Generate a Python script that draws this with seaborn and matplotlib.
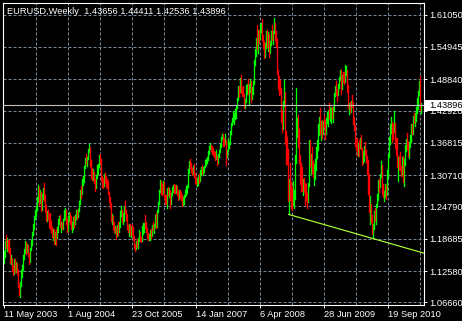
import numpy as np
import pandas as pd
import matplotlib
matplotlib.use("Agg")
import matplotlib.pyplot as plt
import seaborn as sns
from matplotlib.patches import Rectangle

# ---------------- data (weekly EURUSD bars) ----------------
chart_title = "EURUSD,Weekly  1.43656 1.44411 1.42536 1.43896"
first_open = 1.1480

high = [
    1.1630, 1.1820, 1.1933, 1.1880, 1.1850, 1.1840, 1.1700, 1.1560, 1.1500, 1.1370,
    1.1480, 1.1480, 1.1440, 1.1420, 1.1280, 1.1020, 1.1050, 1.1280, 1.1380, 1.1560,
    1.1670, 1.1820, 1.1800, 1.1780, 1.1750, 1.1600, 1.1700, 1.1850, 1.2000, 1.2150,
    1.2300, 1.2420, 1.2480, 1.2650, 1.2890, 1.2850, 1.2800, 1.2750, 1.2720, 1.2830,
    1.2930, 1.2700, 1.2500, 1.2400, 1.2420, 1.2340, 1.2350, 1.2200, 1.2100, 1.2050,
    1.2050, 1.2000, 1.2050, 1.2100, 1.2250, 1.2300, 1.2310, 1.2180, 1.2180, 1.2250,
    1.2420, 1.2450, 1.2420, 1.2250, 1.2300, 1.2380, 1.2360, 1.2300, 1.2180, 1.2280,
    1.2300, 1.2320, 1.2420, 1.2420, 1.2440, 1.2580, 1.2790, 1.2870, 1.2990, 1.3050,
    1.3240, 1.3400, 1.3470, 1.3420, 1.3560, 1.3667, 1.3600, 1.3360, 1.3200, 1.3180,
    1.3140, 1.2990, 1.3080, 1.3270, 1.3280, 1.3450, 1.3480, 1.3370, 1.3050, 1.3010,
    1.3100, 1.3120, 1.3060, 1.3000, 1.2960, 1.2760, 1.2650, 1.2540, 1.2330, 1.2300,
    1.2180, 1.2120, 1.2100, 1.2130, 1.2180, 1.2180, 1.2400, 1.2480, 1.2420, 1.2350,
    1.2480, 1.2580, 1.2420, 1.2330, 1.2130, 1.2140, 1.2150, 1.2110, 1.2150, 1.2100,
    1.1920, 1.1780, 1.1820, 1.1860, 1.1880, 1.2030, 1.2000, 1.1900, 1.2120, 1.2160,
    1.2170, 1.2320, 1.2190, 1.2080, 1.1980, 1.1960, 1.2030, 1.2050, 1.2130, 1.2190,
    1.2150, 1.2320, 1.2350, 1.2420, 1.2560, 1.2800, 1.2980, 1.2960, 1.2900, 1.2960,
    1.2950, 1.2700, 1.2690, 1.2820, 1.2840, 1.2830, 1.2790, 1.2740, 1.2840, 1.2890,
    1.2900, 1.2880, 1.2890, 1.2860, 1.2780, 1.2800, 1.2800, 1.2750, 1.2690, 1.2650,
    1.2700, 1.2790, 1.2860, 1.2880, 1.3180, 1.3330, 1.3367, 1.3300, 1.3200, 1.3250,
    1.3280, 1.3120, 1.3020, 1.3020, 1.3080, 1.3090, 1.3170, 1.3230, 1.3260, 1.3220,
    1.3250, 1.3360, 1.3370, 1.3410, 1.3530, 1.3630, 1.3680, 1.3640, 1.3620, 1.3580,
    1.3520, 1.3500, 1.3540, 1.3430, 1.3480, 1.3540, 1.3650, 1.3800, 1.3850, 1.3852,
    1.3770, 1.3850, 1.3730, 1.3550, 1.3760, 1.3700, 1.3900, 1.4050, 1.4150, 1.4280,
    1.4250, 1.4320, 1.4380, 1.4530, 1.4750, 1.4750, 1.4900, 1.4967, 1.4740, 1.4760,
    1.4610, 1.4500, 1.4780, 1.4800, 1.4880, 1.4790, 1.4880, 1.4850, 1.4730, 1.4850,
    1.5250, 1.5460, 1.5660, 1.5900, 1.5820, 1.5820, 1.5920, 1.5950, 1.6019, 1.5720,
    1.5600, 1.5560, 1.5790, 1.5820, 1.5780, 1.5740, 1.5600, 1.5800, 1.5910, 1.5800,
    1.6038, 1.5940, 1.5800, 1.5640, 1.5050, 1.4950, 1.4870, 1.4720, 1.4300, 1.4480,
    1.4867, 1.4650, 1.3900, 1.3800, 1.3560, 1.3000, 1.3300, 1.2950, 1.2850, 1.2970,
    1.2800, 1.3450, 1.4720, 1.4150, 1.4200, 1.3950, 1.3450, 1.3300, 1.3230, 1.3000,
    1.3020, 1.2920, 1.2900, 1.2730, 1.2930, 1.3740, 1.3740, 1.3480, 1.3600, 1.3330,
    1.3280, 1.3370, 1.3610, 1.3740, 1.4040, 1.4160, 1.4340, 1.4100, 1.4120, 1.4100,
    1.4200, 1.4120, 1.4150, 1.4270, 1.4300, 1.4440, 1.4360, 1.4340, 1.4350, 1.4350,
    1.4620, 1.4750, 1.4850, 1.4700, 1.4800, 1.4930, 1.5060, 1.5060, 1.4960, 1.5010,
    1.5020, 1.5145, 1.5140, 1.5060, 1.4770, 1.4440, 1.4450, 1.4480, 1.4580, 1.4450,
    1.4170, 1.4020, 1.3750, 1.3780, 1.3680, 1.3740, 1.3780, 1.3820, 1.3590, 1.3520,
    1.3620, 1.3700, 1.3550, 1.3440, 1.3350, 1.3100, 1.2680, 1.2520, 1.2310, 1.2150,
    1.2400, 1.2450, 1.2520, 1.2720, 1.2980, 1.2990, 1.3100, 1.3330, 1.3270, 1.2910,
    1.2780, 1.2910, 1.2890, 1.3160, 1.3480, 1.3790, 1.4030, 1.4160, 1.4070, 1.4030,
    1.4283, 1.4050, 1.3780, 1.3770, 1.3410, 1.3440, 1.3500, 1.3240, 1.3420, 1.3440,
    1.3370, 1.3640, 1.3760, 1.3860, 1.3700, 1.3690, 1.3830, 1.4030, 1.4040, 1.4180,
    1.4250, 1.4250, 1.4350, 1.4520, 1.4660, 1.4850, 1.4940, 1.44411,
]

low = [
    1.1420, 1.1530, 1.1690, 1.1630, 1.1640, 1.1600, 1.1420, 1.1400, 1.1260, 1.1180,
    1.1200, 1.1250, 1.1250, 1.1200, 1.0950, 1.0800, 1.0762, 1.0980, 1.1150, 1.1280,
    1.1480, 1.1600, 1.1580, 1.1620, 1.1550, 1.1400, 1.1430, 1.1650, 1.1750, 1.1950,
    1.2050, 1.2240, 1.2300, 1.2420, 1.2560, 1.2500, 1.2550, 1.2400, 1.2420, 1.2620,
    1.2580, 1.2380, 1.2200, 1.2200, 1.2250, 1.2100, 1.2050, 1.2000, 1.1900, 1.1850,
    1.1780, 1.1780, 1.1760, 1.1880, 1.2000, 1.2150, 1.2100, 1.2000, 1.2050, 1.2050,
    1.2220, 1.2250, 1.2150, 1.2000, 1.2020, 1.2200, 1.2150, 1.2050, 1.2000, 1.2050,
    1.2100, 1.2150, 1.2250, 1.2250, 1.2280, 1.2400, 1.2530, 1.2640, 1.2720, 1.2880,
    1.2940, 1.3200, 1.3280, 1.3250, 1.3380, 1.3500, 1.3250, 1.3020, 1.2980, 1.2980,
    1.2920, 1.2770, 1.2820, 1.3020, 1.3100, 1.3230, 1.3300, 1.2960, 1.2850, 1.2830,
    1.2870, 1.2920, 1.2840, 1.2820, 1.2710, 1.2570, 1.2460, 1.2200, 1.2150, 1.2050,
    1.2000, 1.1970, 1.1870, 1.1930, 1.1950, 1.2000, 1.2100, 1.2300, 1.2180, 1.2150,
    1.2200, 1.2360, 1.2220, 1.2050, 1.2000, 1.1920, 1.1950, 1.1900, 1.1950, 1.1850,
    1.1700, 1.1640, 1.1680, 1.1710, 1.1700, 1.1830, 1.1820, 1.1800, 1.1820, 1.1960,
    1.2000, 1.2080, 1.2000, 1.1890, 1.1850, 1.1840, 1.1850, 1.1880, 1.1920, 1.2040,
    1.1980, 1.2100, 1.2080, 1.2100, 1.2380, 1.2520, 1.2750, 1.2720, 1.2700, 1.2740,
    1.2640, 1.2530, 1.2520, 1.2460, 1.2700, 1.2650, 1.2450, 1.2520, 1.2700, 1.2760,
    1.2740, 1.2740, 1.2740, 1.2700, 1.2610, 1.2620, 1.2640, 1.2600, 1.2480, 1.2500,
    1.2530, 1.2660, 1.2700, 1.2740, 1.2840, 1.3120, 1.3200, 1.3140, 1.3080, 1.3100,
    1.3030, 1.2920, 1.2900, 1.2870, 1.2890, 1.2920, 1.2960, 1.3080, 1.3100, 1.3070,
    1.3130, 1.3220, 1.3260, 1.3300, 1.3360, 1.3480, 1.3570, 1.3520, 1.3480, 1.3460,
    1.3420, 1.3360, 1.3380, 1.3270, 1.3300, 1.3420, 1.3500, 1.3600, 1.3750, 1.3620,
    1.3620, 1.3650, 1.3260, 1.3420, 1.3520, 1.3580, 1.3650, 1.3850, 1.4020, 1.4080,
    1.4040, 1.4130, 1.4150, 1.4340, 1.4490, 1.4540, 1.4640, 1.4620, 1.4560, 1.4560,
    1.4330, 1.4340, 1.4450, 1.4600, 1.4600, 1.4400, 1.4640, 1.4450, 1.4500, 1.4600,
    1.4800, 1.5150, 1.5330, 1.5450, 1.5380, 1.5560, 1.5650, 1.5780, 1.5620, 1.5480,
    1.5280, 1.5300, 1.5480, 1.5500, 1.5410, 1.5300, 1.5380, 1.5520, 1.5630, 1.5550,
    1.5750, 1.5630, 1.5500, 1.4980, 1.4700, 1.4580, 1.4600, 1.4080, 1.3880, 1.3950,
    1.4370, 1.3650, 1.3280, 1.3280, 1.2580, 1.2330, 1.2600, 1.2450, 1.2420, 1.2500,
    1.2450, 1.2620, 1.3300, 1.3800, 1.3600, 1.3300, 1.2900, 1.2770, 1.2770, 1.2700,
    1.2760, 1.2500, 1.2600, 1.2455, 1.2570, 1.2860, 1.3250, 1.3100, 1.3120, 1.3040,
    1.2890, 1.3000, 1.3160, 1.3400, 1.3550, 1.3830, 1.3850, 1.3740, 1.3770, 1.3850,
    1.3980, 1.3750, 1.3850, 1.4050, 1.4000, 1.4150, 1.4100, 1.4050, 1.4150, 1.4080,
    1.4300, 1.4560, 1.4580, 1.4480, 1.4580, 1.4720, 1.4860, 1.4610, 1.4690, 1.4830,
    1.4800, 1.4830, 1.4960, 1.4650, 1.4330, 1.4220, 1.4260, 1.4260, 1.4360, 1.4030,
    1.3930, 1.3620, 1.3550, 1.3450, 1.3440, 1.3440, 1.3580, 1.3570, 1.3270, 1.3300,
    1.3340, 1.3460, 1.3320, 1.3100, 1.2720, 1.2380, 1.2140, 1.2180, 1.1960, 1.1876,
    1.2060, 1.2200, 1.2150, 1.2470, 1.2600, 1.2760, 1.2840, 1.3040, 1.2720, 1.2660,
    1.2590, 1.2650, 1.2630, 1.2690, 1.3030, 1.3420, 1.3660, 1.3870, 1.3700, 1.3760,
    1.3880, 1.3580, 1.3450, 1.3220, 1.2970, 1.3170, 1.3160, 1.3060, 1.3070, 1.2950,
    1.2870, 1.3270, 1.3520, 1.3560, 1.3430, 1.3400, 1.3600, 1.3700, 1.3850, 1.3850,
    1.4060, 1.4000, 1.4100, 1.4250, 1.4320, 1.4580, 1.4300, 1.42536,
]

close = [
    1.1560, 1.1790, 1.1760, 1.1820, 1.1720, 1.1650, 1.1450, 1.1480, 1.1300, 1.1220,
    1.1420, 1.1300, 1.1400, 1.1260, 1.1000, 1.0820, 1.1000, 1.1250, 1.1300, 1.1520,
    1.1620, 1.1760, 1.1640, 1.1700, 1.1570, 1.1440, 1.1680, 1.1800, 1.1980, 1.2080,
    1.2280, 1.2380, 1.2440, 1.2600, 1.2800, 1.2600, 1.2650, 1.2450, 1.2680, 1.2800,
    1.2640, 1.2450, 1.2260, 1.2380, 1.2310, 1.2150, 1.2080, 1.2050, 1.1950, 1.1980,
    1.1800, 1.1960, 1.1920, 1.2050, 1.2200, 1.2250, 1.2120, 1.2150, 1.2100, 1.2230,
    1.2380, 1.2410, 1.2200, 1.2030, 1.2270, 1.2300, 1.2220, 1.2070, 1.2100, 1.2200,
    1.2150, 1.2270, 1.2400, 1.2300, 1.2420, 1.2560, 1.2750, 1.2740, 1.2970, 1.2980,
    1.3220, 1.3380, 1.3300, 1.3400, 1.3540, 1.3580, 1.3300, 1.3100, 1.3040, 1.3050,
    1.2950, 1.2790, 1.3050, 1.3220, 1.3240, 1.3410, 1.3350, 1.2980, 1.2960, 1.2880,
    1.3050, 1.2950, 1.2920, 1.2850, 1.2730, 1.2580, 1.2520, 1.2250, 1.2300, 1.2100,
    1.2050, 1.2100, 1.1950, 1.2100, 1.2020, 1.2140, 1.2360, 1.2420, 1.2250, 1.2300,
    1.2440, 1.2400, 1.2260, 1.2080, 1.2050, 1.2060, 1.2000, 1.2050, 1.2000, 1.1900,
    1.1730, 1.1700, 1.1780, 1.1770, 1.1850, 1.1990, 1.1850, 1.1840, 1.2080, 1.2100,
    1.2120, 1.2040, 1.2020, 1.1920, 1.1890, 1.1920, 1.1990, 1.1920, 1.2100, 1.2080,
    1.2100, 1.2290, 1.2120, 1.2400, 1.2540, 1.2760, 1.2880, 1.2820, 1.2750, 1.2920,
    1.2670, 1.2610, 1.2580, 1.2800, 1.2740, 1.2780, 1.2580, 1.2740, 1.2800, 1.2860,
    1.2800, 1.2790, 1.2830, 1.2720, 1.2680, 1.2760, 1.2680, 1.2660, 1.2520, 1.2580,
    1.2680, 1.2740, 1.2830, 1.2860, 1.3160, 1.3280, 1.3270, 1.3180, 1.3150, 1.3200,
    1.3060, 1.2970, 1.2940, 1.2960, 1.3040, 1.2960, 1.3130, 1.3180, 1.3120, 1.3130,
    1.3240, 1.3320, 1.3350, 1.3380, 1.3500, 1.3600, 1.3620, 1.3560, 1.3520, 1.3510,
    1.3460, 1.3380, 1.3420, 1.3300, 1.3450, 1.3510, 1.3620, 1.3780, 1.3810, 1.3700,
    1.3650, 1.3720, 1.3430, 1.3520, 1.3620, 1.3680, 1.3880, 1.4040, 1.4120, 1.4180,
    1.4190, 1.4310, 1.4380, 1.4510, 1.4700, 1.4650, 1.4830, 1.4670, 1.4630, 1.4600,
    1.4380, 1.4480, 1.4740, 1.4750, 1.4650, 1.4660, 1.4820, 1.4520, 1.4660, 1.4820,
    1.5200, 1.5350, 1.5650, 1.5500, 1.5780, 1.5750, 1.5810, 1.5900, 1.5680, 1.5560,
    1.5430, 1.5500, 1.5720, 1.5550, 1.5750, 1.5400, 1.5550, 1.5780, 1.5650, 1.5770,
    1.5870, 1.5700, 1.5580, 1.5000, 1.4800, 1.4760, 1.4690, 1.4260, 1.3950, 1.4450,
    1.4650, 1.3770, 1.3440, 1.3430, 1.2690, 1.2750, 1.2720, 1.2700, 1.2560, 1.2700,
    1.2720, 1.3350, 1.3950, 1.4020, 1.3920, 1.3400, 1.3200, 1.2900, 1.2800, 1.2950,
    1.2800, 1.2670, 1.2650, 1.2630, 1.2880, 1.3600, 1.3280, 1.3450, 1.3170, 1.3050,
    1.3250, 1.3260, 1.3500, 1.3580, 1.4000, 1.4150, 1.3930, 1.4050, 1.3940, 1.4100,
    1.4040, 1.3980, 1.4080, 1.4200, 1.4250, 1.4170, 1.4190, 1.4320, 1.4300, 1.4320,
    1.4570, 1.4720, 1.4680, 1.4660, 1.4780, 1.4910, 1.5010, 1.4720, 1.4900, 1.4880,
    1.4870, 1.4990, 1.5050, 1.4700, 1.4340, 1.4350, 1.4320, 1.4410, 1.4380, 1.4140,
    1.3970, 1.3640, 1.3620, 1.3600, 1.3630, 1.3620, 1.3760, 1.3580, 1.3350, 1.3420,
    1.3600, 1.3500, 1.3380, 1.3290, 1.2760, 1.2400, 1.2580, 1.2270, 1.1970, 1.2120,
    1.2360, 1.2230, 1.2510, 1.2640, 1.2940, 1.2830, 1.3050, 1.3280, 1.2750, 1.2710,
    1.2750, 1.2890, 1.2720, 1.3050, 1.3470, 1.3780, 1.3960, 1.4000, 1.3950, 1.3930,
    1.4020, 1.3690, 1.3680, 1.3250, 1.3390, 1.3230, 1.3190, 1.3080, 1.3380, 1.2980,
    1.3350, 1.3610, 1.3720, 1.3590, 1.3520, 1.3680, 1.3750, 1.3990, 1.3910, 1.4180,
    1.4100, 1.4230, 1.4300, 1.4480, 1.4600, 1.4800, 1.4366, 1.43896,
]

date_ticks = [0, 64, 128, 192, 256, 320, 384]
date_labels = ["11 May 2003", "1 Aug 2004", "23 Oct 2005", "14 Jan 2007",
               "6 Apr 2008", "28 Jun 2009", "19 Sep 2010"]
price_ticks = [1.06660, 1.12580, 1.18685, 1.24790, 1.30710,
               1.36815, 1.42920, 1.48840, 1.54945, 1.61050]
current_price = 1.43896
trend_bars = [285, 369]
trend_prices = [1.2330, 1.1876]

# ---------------- build long table: one vertical segment per bar ----------------
n = len(close)
open_ = [first_open] + close[:-1]
bars = np.arange(n)
direction = np.where(np.array(close) >= np.array(open_), "up", "down")
df = pd.DataFrame({
    "bar": np.repeat(bars, 2),
    "price": np.column_stack([low, high]).ravel(),
    "dir": np.repeat(direction, 2),
})

plt.rcParams["font.family"] = ["Liberation Sans", "DejaVu Sans"]

W, H = 462, 321
fig = plt.figure(figsize=(W / 100, H / 100), dpi=100, facecolor="black")
left_px, right_px, top_px, bottom_px = 2.5, 423.5, 2.5, 304.5
ax = fig.add_axes([left_px / W, 1 - bottom_px / H,
                   (right_px - left_px) / W, (bottom_px - top_px) / H])
ax.set_facecolor("black")

grid_kw = dict(color="#778899", lw=0.72, ls=(0, (3, 2)), zorder=1)
for p in price_ticks:
    ax.axhline(p, **grid_kw)
for b in range(32, 420, 32):
    ax.axvline(b, **grid_kw)

sns.lineplot(data=df, x="bar", y="price", hue="dir", units="bar",
             estimator=None, sort=False,
             palette={"up": "#00FF00", "down": "#FF0000"},
             linewidth=0.95, legend=False, ax=ax, zorder=3)

# trend line (ray) through the two anchor lows, extended to the right edge
x_right = 420
slope = (trend_prices[1] - trend_prices[0]) / (trend_bars[1] - trend_bars[0])
ax.plot([trend_bars[0], x_right],
        [trend_prices[0], trend_prices[1] + slope * (x_right - trend_bars[1])],
        color="#ADFF2F", lw=0.85, zorder=4)

ax.axhline(current_price, color="#C0C0C0", lw=0.8, zorder=5)

ax.set_xlim(-1, 420)
ax.set_ylim(1.0628, 1.6332)
ax.set_xlabel("")
ax.set_ylabel("")

for s in ax.spines.values():
    s.set_color("white")
    s.set_linewidth(0.8)

ax.yaxis.tick_right()
ax.set_yticks(price_ticks, [f"{p:.5f}" for p in price_ticks])
ax.set_xticks(date_ticks, date_labels)
for lbl in ax.get_xticklabels():
    lbl.set_ha("left")
ax.tick_params(axis="y", colors="white", length=2.2, width=0.7, pad=2.2,
               labelsize=6.7, direction="out")
ax.tick_params(axis="x", colors="white", length=2.2, width=0.7, pad=1.5,
               labelsize=6.7, direction="out")

fig.text(7 / W, 1 - 11 / H, chart_title, color="white", fontsize=6.7,
         ha="left", va="center")

fig.add_artist(Rectangle((424 / W, 1 - 111 / H), 38 / W, 11 / H,
                         transform=fig.transFigure, facecolor="white",
                         edgecolor="none", zorder=10))
fig.text(429 / W, 1 - 105.5 / H, f"{current_price:.5f}", color="black",
         fontsize=6.7, ha="left", va="center", zorder=11)

fig.savefig("out.png", dpi=100, facecolor="black")
